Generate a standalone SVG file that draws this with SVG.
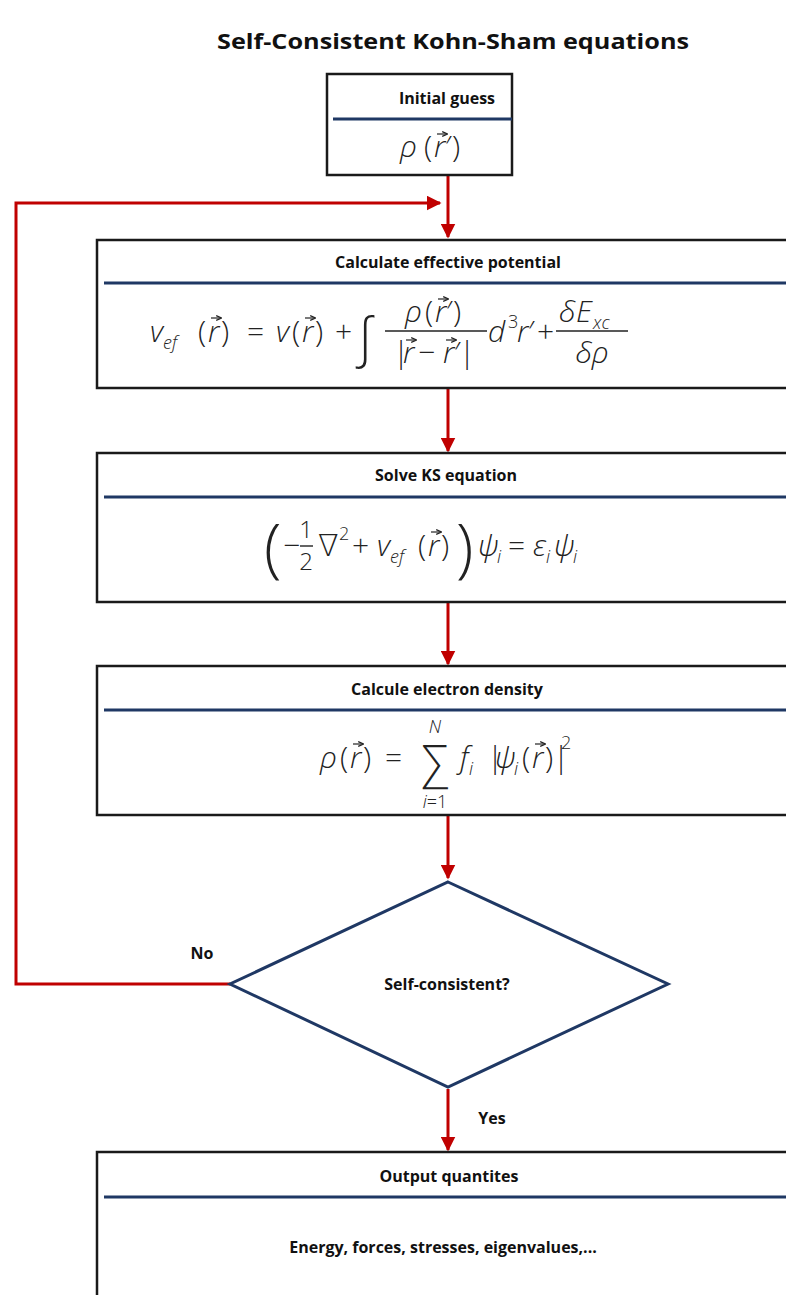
<svg xmlns="http://www.w3.org/2000/svg" width="786" height="1295" viewBox="0 0 786 1295">
<defs>
<style>
.box{fill:#fff;stroke:#1a1a1a;stroke-width:2.5}
.sep{stroke:#1f3864;stroke-width:3}
.lbl{font-family:"Open Sans","Liberation Sans",sans-serif;font-weight:700;font-size:16px;fill:#111;text-anchor:middle}
.title{font-family:"Open Sans","Liberation Sans",sans-serif;font-weight:700;font-size:22px;fill:#111;text-anchor:middle}
.m{font-family:"Open Sans","DejaVu Sans",sans-serif;font-weight:300;font-size:30px;fill:#222}
.it{font-style:italic}
.s{font-family:"Open Sans","DejaVu Sans",sans-serif;font-weight:300;font-size:18px;fill:#222;font-style:italic}
.su{font-family:"Open Sans","DejaVu Sans",sans-serif;font-weight:300;font-size:18px;fill:#222}
.c{text-anchor:middle}
.bar{stroke:#222;stroke-width:1.4}
.vec{stroke:#222;stroke-width:1.2;fill:none}
.conn{stroke:#c00000;stroke-width:3;fill:none}
.dia{fill:#fff;stroke:#1f3864;stroke-width:3}
</style>
<marker id="ah" markerWidth="5" markerHeight="5" refX="4.5" refY="2.5" orient="auto" markerUnits="strokeWidth">
<path d="M0,0 L5,2.5 L0,5 z" fill="#c00000"/>
</marker>
<marker id="va" markerWidth="5" markerHeight="5" refX="4" refY="2.5" orient="auto" markerUnits="strokeWidth">
<path d="M0,0.5 L4.5,2.5 L0,4.5" fill="none" stroke="#222" stroke-width="1"/>
</marker>
</defs>
<rect width="786" height="1295" fill="#fff"/>

<text class="title" x="453" y="49" textLength="472" lengthAdjust="spacingAndGlyphs">Self-Consistent Kohn-Sham equations</text>

<g id="connectors">
<path class="conn" d="M448,176 V237" marker-end="url(#ah)"/>
<path class="conn" d="M230,984 H16 V203 H440" marker-end="url(#ah)"/>
<path class="conn" d="M448,389 V451" marker-end="url(#ah)"/>
<path class="conn" d="M448,603 V664" marker-end="url(#ah)"/>
<path class="conn" d="M448,816 V878" marker-end="url(#ah)"/>
<path class="conn" d="M448,1089 V1150" marker-end="url(#ah)"/>
</g>

<g id="initial">
<rect class="box" x="327" y="74" width="185" height="101"/>
<line class="sep" x1="333" y1="119" x2="512" y2="119"/>
<text class="lbl" x="447" y="104">Initial guess</text>
<text class="m it" x="400" y="157">ρ</text>
<text class="m" x="424" y="157">(</text>
<text class="m it" x="434" y="157">r</text>
<text class="m" x="445" y="157">′</text>
<text class="m" x="452" y="157">)</text>
<path class="vec" d="M437,134 h10" marker-end="url(#va)"/>
</g>

<g id="potential">
<rect class="box" x="97" y="240" width="720" height="148"/>
<line class="sep" x1="104" y1="283" x2="786" y2="283"/>
<text class="lbl" x="448" y="268">Calculate effective potential</text>
<text class="m it" x="150" y="342">v</text>
<text class="s" x="163" y="349">ef</text>
<text class="m" x="198" y="342">(</text>
<text class="m it" x="208" y="342">r</text>
<text class="m" x="221" y="342">)</text>
<path class="vec" d="M211,318 h10" marker-end="url(#va)"/>
<text class="m" x="247" y="342">=</text>
<text class="m it" x="276" y="342">v</text>
<text class="m" x="292" y="342">(</text>
<text class="m it" x="302" y="342">r</text>
<text class="m" x="315" y="342">)</text>
<path class="vec" d="M305,318 h10" marker-end="url(#va)"/>
<text class="m" x="335" y="342">+</text>
<text class="m it" x="358" y="356" style="font-size:54px">∫</text>
<text class="m it" x="405" y="322">ρ</text>
<text class="m" x="425" y="322">(</text>
<text class="m it" x="435" y="322">r</text>
<text class="m" x="446" y="322">′</text>
<text class="m" x="453" y="322">)</text>
<path class="vec" d="M438,299 h10" marker-end="url(#va)"/>
<line class="bar" x1="385" y1="331" x2="487" y2="331"/>
<text class="m" x="393" y="363">|</text>
<text class="m it" x="403" y="363">r</text>
<text class="m" x="418" y="363">−</text>
<text class="m it" x="443" y="363">r</text>
<text class="m" x="454" y="363">′</text>
<text class="m" x="459" y="363">|</text>
<path class="vec" d="M406,340 h10" marker-end="url(#va)"/>
<path class="vec" d="M446,340 h10" marker-end="url(#va)"/>
<text class="m it" x="488" y="342">d</text>
<text class="su" x="508" y="328">3</text>
<text class="m it" x="517" y="342">r</text>
<text class="m" x="528" y="342">′</text>
<text class="m" x="537" y="342">+</text>
<text class="m it" x="559" y="322">δ</text>
<text class="m it" x="576" y="322">E</text>
<text class="s" x="593" y="329">xc</text>
<line class="bar" x1="556" y1="331" x2="628" y2="331"/>
<text class="m it c" x="592" y="363">δρ</text>
</g>

<g id="ks">
<rect class="box" x="97" y="453" width="720" height="149"/>
<line class="sep" x1="104" y1="497" x2="786" y2="497"/>
<text class="lbl" x="446" y="481">Solve KS equation</text>
<text class="m" x="264" y="570" style="font-size:64px">(</text>
<text class="m" x="283" y="556">−</text>
<text class="m c" x="306" y="538" style="font-size:24px">1</text>
<line class="bar" x1="300" y1="546" x2="313" y2="546"/>
<text class="m c" x="306" y="570" style="font-size:24px">2</text>
<text class="m" x="318" y="556">∇</text>
<text class="su" x="339" y="540">2</text>
<text class="m" x="352" y="556">+</text>
<text class="m it" x="377" y="556">v</text>
<text class="s" x="390" y="563">ef</text>
<text class="m" x="418" y="556">(</text>
<text class="m it" x="428" y="556">r</text>
<text class="m" x="441" y="556">)</text>
<path class="vec" d="M431,532 h10" marker-end="url(#va)"/>
<text class="m" x="456" y="570" style="font-size:64px">)</text>
<text class="m it" x="478" y="556">ψ</text>
<text class="s" x="497" y="563">i</text>
<text class="m" x="508" y="556">=</text>
<text class="m it" x="533" y="556">ε</text>
<text class="s" x="546" y="563">i</text>
<text class="m it" x="554" y="556">ψ</text>
<text class="s" x="573" y="563">i</text>
</g>

<g id="density">
<rect class="box" x="97" y="666" width="720" height="149"/>
<line class="sep" x1="104" y1="710" x2="786" y2="710"/>
<text class="lbl" x="447" y="695">Calcule electron density</text>
<text class="m it" x="320" y="768">ρ</text>
<text class="m" x="340" y="768">(</text>
<text class="m it" x="350" y="768">r</text>
<text class="m" x="363" y="768">)</text>
<path class="vec" d="M353,744 h10" marker-end="url(#va)"/>
<text class="m" x="385" y="768">=</text>
<text class="m c" x="435" y="778" style="font-size:46px">∑</text>
<text class="s c" x="435" y="733">N</text>
<text class="su c" x="435" y="808"><tspan class="it">i</tspan>=1</text>
<text class="m it" x="460" y="768">f</text>
<text class="s" x="469" y="775">i</text>
<text class="m" x="487" y="768">|</text>
<text class="m it" x="495" y="768">ψ</text>
<text class="s" x="514" y="775">i</text>
<text class="m" x="522" y="768">(</text>
<text class="m it" x="532" y="768">r</text>
<text class="m" x="545" y="768">)</text>
<path class="vec" d="M535,744 h10" marker-end="url(#va)"/>
<text class="m" x="553" y="768">|</text>
<text class="su" x="561" y="749">2</text>
</g>

<g id="decision">
<polygon class="dia" points="448,882 668,984 448,1087 230,984"/>
<text class="lbl" x="447" y="990">Self-consistent?</text>
</g>
<text class="lbl" x="202" y="959">No</text>
<text class="lbl" x="492" y="1124">Yes</text>

<g id="output">
<rect class="box" x="97" y="1152" width="720" height="200"/>
<line class="sep" x1="104" y1="1197" x2="786" y2="1197"/>
<text class="lbl" x="449" y="1182">Output quantites</text>
<text class="lbl" x="443" y="1253">Energy, forces, stresses, eigenvalues,...</text>
</g>
</svg>
